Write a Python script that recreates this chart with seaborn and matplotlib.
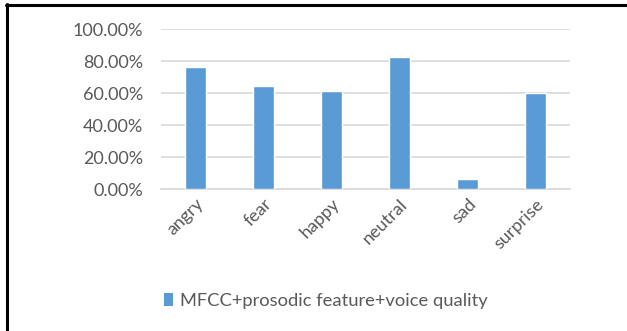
import matplotlib
matplotlib.use("Agg")
import matplotlib.pyplot as plt
from matplotlib.lines import Line2D
from matplotlib.patches import Patch
from matplotlib.ticker import FuncFormatter, MultipleLocator
import seaborn as sns
import pandas as pd

emotions = ["angry", "fear", "happy", "neutral", "sad", "surprise"]
accuracy = [0.761, 0.644, 0.612, 0.827, 0.063, 0.598]
series_name = "MFCC+prosodic feature+voice quality"

sns.set_theme(style="white")
plt.rcParams["font.family"] = ["Lato", "DejaVu Sans"]

bar_color = "#5b9bd5"
text_color = "#595959"
grid_color = "#d9d9d9"

df = pd.DataFrame({"emotion": emotions, "accuracy": accuracy})

fig = plt.figure(figsize=(6.27, 3.31), dpi=100)
ax = fig.add_axes([161 / 627, 1 - 189 / 331, (570 - 161) / 627, (189 - 29) / 331])

sns.barplot(data=df, x="emotion", y="accuracy", color=bar_color, width=0.31,
            saturation=1, ax=ax, zorder=3)

ax.set_ylim(0, 1.0)
ax.set_xlim(-0.5, len(emotions) - 0.5)
ax.yaxis.set_major_locator(MultipleLocator(0.2))
ax.yaxis.set_major_formatter(FuncFormatter(lambda v, _: f"{v * 100:.2f}%"))
ax.grid(axis="y", color=grid_color, linewidth=1.2, zorder=0)
ax.grid(axis="x", visible=False)
for side in ["top", "right", "left"]:
    ax.spines[side].set_visible(False)
ax.spines["bottom"].set_color(grid_color)
ax.spines["bottom"].set_linewidth(1.2)
ax.set_xlabel("")
ax.set_ylabel("")
ax.tick_params(axis="both", length=0, colors=text_color, labelsize=13)
ax.tick_params(axis="y", pad=13)
ax.tick_params(axis="x", pad=5)
for lbl in ax.get_xticklabels():
    lbl.set_rotation(45)
    lbl.set_ha("right")
    lbl.set_rotation_mode("anchor")

# legend under the chart
handle = Patch(facecolor=bar_color, edgecolor="none")
fig.legend([handle], [series_name], loc="center left",
           bbox_to_anchor=(164 / 627, 1 - 301 / 331), frameon=False,
           borderpad=0, borderaxespad=0,
           handlelength=0.5, handleheight=0.65, handletextpad=0.4,
           fontsize=13.2, labelcolor=text_color)

# frame lines along the top and left edges
fig.add_artist(Line2D([6 / 627, 1], [1 - 5 / 331, 1 - 5 / 331], color="black",
                      linewidth=2.2, transform=fig.transFigure))
fig.add_artist(Line2D([7 / 627, 7 / 627], [0, 1 - 4 / 331], color="black",
                      linewidth=2.2, transform=fig.transFigure))

fig.savefig("out.png", dpi=100, facecolor="white")
